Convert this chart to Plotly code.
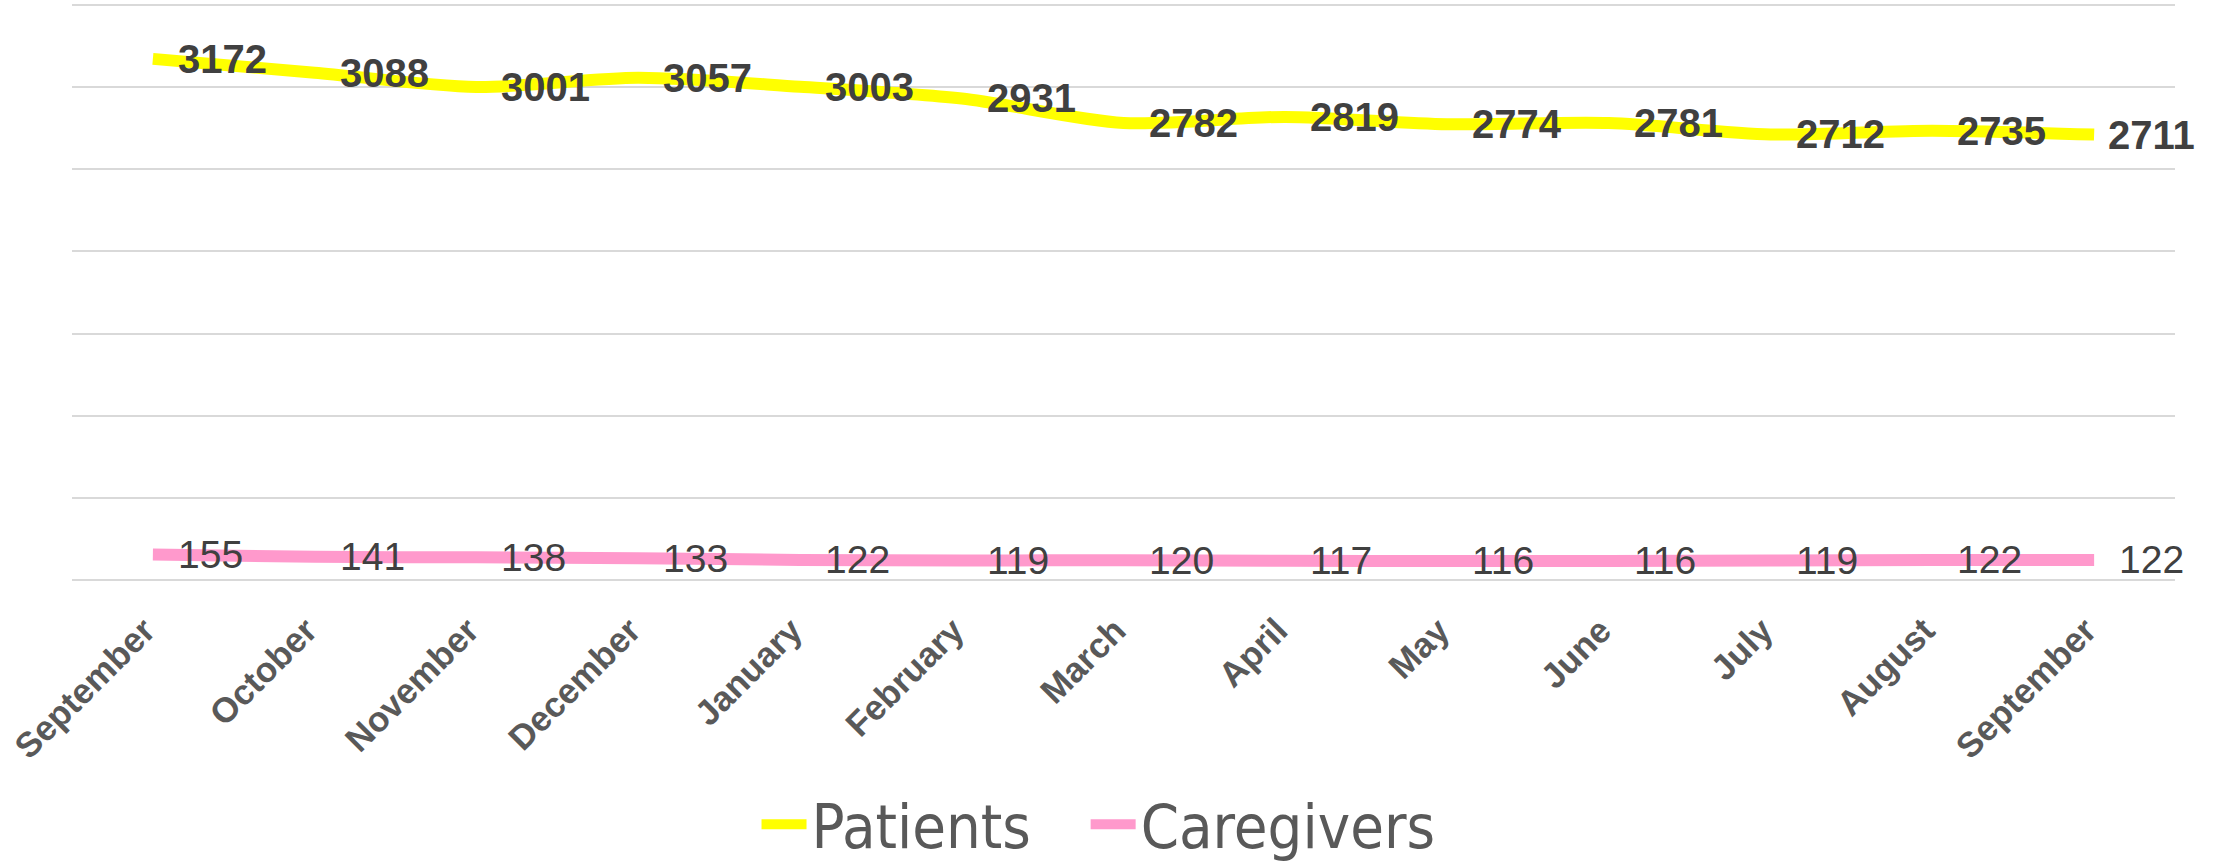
import plotly.graph_objects as go

months = ["September", "October", "November", "December", "January", "February",
          "March", "April", "May", "June", "July", "August", "September"]
patients = [3172, 3088, 3001, 3057, 3003, 2931, 2782, 2819, 2774, 2781, 2712, 2735, 2711]
caregivers = [155, 141, 138, 133, 122, 119, 120, 117, 116, 116, 119, 122, 122]

x = list(range(len(months)))

YELLOW = "#FFFF00"
PINK = "#FF99CC"
LABEL = "#404040"
AXIS_TEXT = "#595959"
GRID = "#D9D9D9"

fig = go.Figure()
fig.add_trace(go.Scatter(x=x, y=patients, name="Patients", mode="lines", legend="legend",
                         line=dict(color=YELLOW, width=12, shape="spline", smoothing=0.8),
                         hoverinfo="skip"))
fig.add_trace(go.Scatter(x=x, y=caregivers, name="Caregivers", mode="lines", legend="legend2",
                         line=dict(color=PINK, width=12, shape="spline", smoothing=0.8),
                         hoverinfo="skip"))

annotations = []
n = len(x)
for i, (xi, v) in enumerate(zip(x, patients)):
    annotations.append(dict(x=xi, y=v, xref="x", yref="y", text=str(v), showarrow=False,
                            xanchor="left", yanchor="middle", xshift=12 if i == n - 1 else 23,
                            font=dict(family="Liberation Sans", size=40, color=LABEL, weight="bold")))
for xi, v in zip(x, caregivers):
    annotations.append(dict(x=xi, y=v, xref="x", yref="y", text=str(v), showarrow=False,
                            xanchor="left", yanchor="middle", xshift=23,
                            font=dict(family="Liberation Sans", size=39, color=LABEL)))

legend_font = dict(family="DejaVu Sans Condensed, Roboto, sans-serif", size=61, color=AXIS_TEXT)
fig.update_layout(
    width=2222, height=863,
    margin=dict(l=72, r=47, t=3, b=283, autoexpand=False),
    paper_bgcolor="white", plot_bgcolor="white",
    showlegend=True,
    legend=dict(orientation="h", x=0.3255, xanchor="left", y=-0.424, yanchor="middle",
                font=legend_font, itemwidth=45),
    legend2=dict(orientation="h", x=0.482, xanchor="left", y=-0.424, yanchor="middle",
                 font=legend_font, itemwidth=45),
    annotations=annotations,
)
fig.update_xaxes(range=[-0.5, 12.5], tickmode="array", tickvals=x, ticktext=months,
                 tickangle=-45, showgrid=False, zeroline=False, showline=False, ticks="",
                 ticklabelstandoff=22, ticklabelshift=-8, automargin=False,
                 ticklabeloverflow="allow",
                 tickfont=dict(family="Liberation Sans", size=35, color=AXIS_TEXT, weight="bold"))
fig.update_yaxes(range=[0, 3512.2], dtick=500, tick0=0, showticklabels=False, showgrid=True,
                 gridcolor=GRID, gridwidth=2, zeroline=True, zerolinecolor=GRID, zerolinewidth=2,
                 showline=False, ticks="", automargin=False)

fig.write_html("out.html", config={"displayModeBar": False},
               post_script="document.body.style.margin='0';document.body.style.overflow='hidden';")
